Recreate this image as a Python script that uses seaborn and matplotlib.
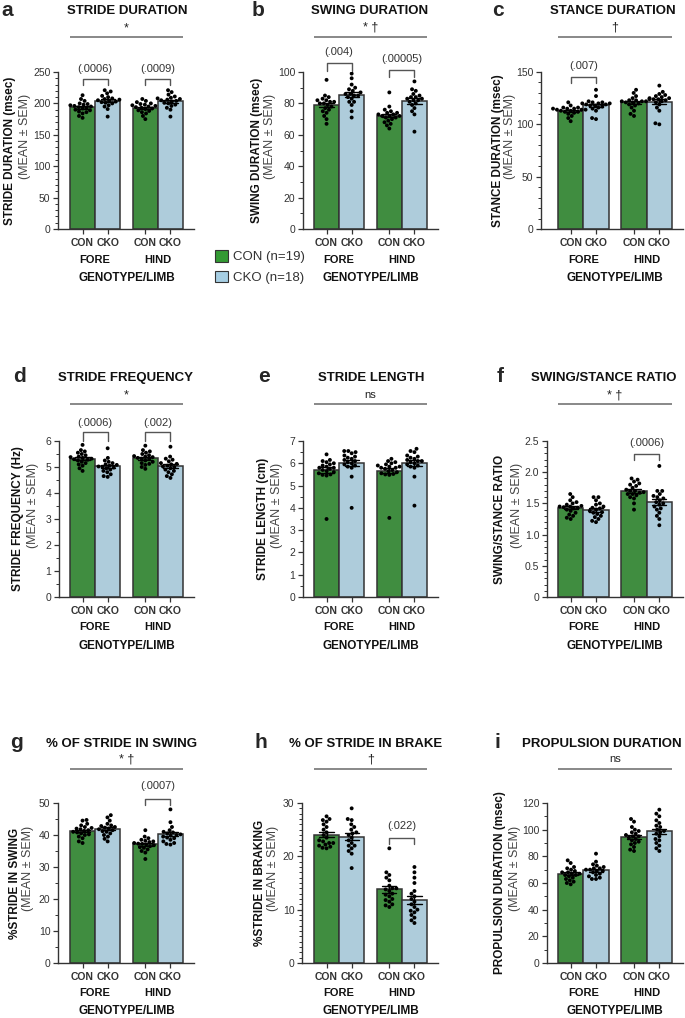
import pandas as pd
import seaborn as sns
import matplotlib.pyplot as plt
import matplotlib.transforms as mtransforms
from matplotlib.ticker import MultipleLocator, FuncFormatter
from matplotlib.patches import Patch

# ---------------- data ----------------
groups = ['CON', 'CKO']
limbs = ['FORE', 'HIND']
legend_labels = ['CON (n=19)', 'CKO (n=18)']

# a  stride duration (msec)
stride_dur_con_fore = [213, 207, 204, 200, 199, 198, 197, 196, 195, 194, 193, 192, 190, 189, 187, 186, 184, 180, 177]
stride_dur_cko_fore = [221, 219, 216, 212, 210, 208, 207, 206, 205, 204, 203, 202, 201, 200, 197, 195, 191, 179]
stride_dur_con_hind = [207, 204, 202, 200, 199, 198, 197, 196, 195, 194, 193, 192, 191, 189, 188, 186, 184, 180, 175]
stride_dur_cko_hind = [221, 218, 214, 211, 209, 208, 207, 206, 205, 204, 203, 201, 200, 198, 196, 193, 190, 179]
# b  swing duration (msec)
swing_dur_con_fore = [95, 85, 84, 83, 82, 82, 81, 81, 80, 80, 79, 78, 77, 76, 75, 74, 72, 70, 67]
swing_dur_cko_fore = [99, 96, 92, 90, 89, 88, 87, 86, 86, 85, 85, 84, 83, 81, 81, 79, 75, 71]
swing_dur_con_hind = [87, 78, 76, 75, 74, 74, 73, 73, 72, 72, 72, 71, 71, 70, 69, 68, 67, 66, 64]
swing_dur_cko_hind = [94, 89, 88, 86, 85, 84, 84, 83, 83, 82, 82, 81, 80, 79, 77, 75, 73, 62]
# c  stance duration (msec)
stance_dur_con_fore = [121, 118, 116, 116, 115, 115, 115, 114, 114, 114, 113, 113, 112, 112, 111, 110, 108, 106, 103]
stance_dur_cko_fore = [133, 127, 122, 121, 121, 120, 120, 120, 119, 119, 118, 118, 117, 116, 115, 113, 106, 105]
stance_dur_con_hind = [133, 130, 127, 125, 124, 123, 123, 122, 122, 122, 121, 121, 120, 119, 118, 116, 113, 110, 108]
stance_dur_cko_hind = [137, 131, 129, 128, 127, 126, 125, 125, 124, 124, 123, 122, 121, 119, 116, 113, 101, 100]
# d  stride frequency (Hz)
stride_freq_con_fore = [5.85, 5.65, 5.6, 5.55, 5.5, 5.45, 5.4, 5.38, 5.35, 5.32, 5.3, 5.28, 5.25, 5.2, 5.15, 5.1, 5.05, 4.95, 4.85]
stride_freq_cko_fore = [5.72, 5.35, 5.25, 5.2, 5.15, 5.1, 5.08, 5.05, 5.02, 5.0, 4.98, 4.95, 4.9, 4.85, 4.8, 4.72, 4.65, 4.62]
stride_freq_con_hind = [5.82, 5.65, 5.6, 5.55, 5.5, 5.45, 5.42, 5.4, 5.38, 5.35, 5.32, 5.3, 5.25, 5.2, 5.15, 5.12, 5.08, 5.0, 4.93]
stride_freq_cko_hind = [5.78, 5.4, 5.32, 5.28, 5.22, 5.15, 5.12, 5.1, 5.05, 5.02, 5.0, 4.95, 4.9, 4.85, 4.8, 4.72, 4.65, 4.58]
# e  stride length (cm)
stride_len_con_fore = [6.4, 6.15, 6.1, 6.05, 6.0, 5.95, 5.9, 5.85, 5.8, 5.8, 5.75, 5.7, 5.65, 5.6, 5.55, 5.5, 5.48, 5.45, 3.5]
stride_len_cko_fore = [6.55, 6.55, 6.5, 6.45, 6.35, 6.3, 6.25, 6.2, 6.15, 6.1, 6.05, 6.0, 5.95, 5.9, 5.85, 5.8, 5.4, 4.0]
stride_len_con_hind = [6.2, 6.1, 6.05, 6.0, 5.95, 5.9, 5.85, 5.85, 5.8, 5.8, 5.75, 5.7, 5.65, 5.6, 5.55, 5.52, 5.5, 5.48, 3.55]
stride_len_cko_hind = [6.65, 6.55, 6.5, 6.35, 6.3, 6.25, 6.2, 6.15, 6.1, 6.1, 6.05, 6.0, 5.95, 5.9, 5.85, 5.8, 5.4, 4.1]
# f  swing/stance ratio
ratio_con_fore = [1.65, 1.6, 1.55, 1.52, 1.5, 1.48, 1.46, 1.45, 1.45, 1.44, 1.43, 1.42, 1.4, 1.38, 1.35, 1.32, 1.3, 1.27, 1.25]
ratio_cko_fore = [1.6, 1.6, 1.55, 1.5, 1.48, 1.45, 1.43, 1.42, 1.4, 1.38, 1.36, 1.35, 1.33, 1.3, 1.28, 1.25, 1.22, 1.2]
ratio_con_hind = [1.9, 1.88, 1.85, 1.82, 1.8, 1.78, 1.75, 1.72, 1.7, 1.7, 1.68, 1.67, 1.65, 1.65, 1.63, 1.6, 1.58, 1.5, 1.4]
ratio_cko_hind = [2.1, 1.7, 1.7, 1.65, 1.62, 1.6, 1.58, 1.55, 1.52, 1.5, 1.48, 1.45, 1.42, 1.4, 1.35, 1.3, 1.25, 1.15]
# g  % stride in swing
pct_swing_con_fore = [44.7, 44.5, 43.5, 43, 42.5, 42.2, 42, 41.8, 41.5, 41.3, 41, 40.8, 40.5, 40.2, 40, 39.5, 39, 38, 37.5]
pct_swing_cko_fore = [46.2, 45.5, 44.5, 43.5, 43, 42.8, 42.5, 42.3, 42, 41.8, 41.5, 41.2, 41, 40.5, 40, 39.5, 38.8, 38]
pct_swing_con_hind = [41.5, 39.5, 39, 38.5, 38.2, 38, 37.8, 37.5, 37.3, 37.2, 37, 36.8, 36.5, 36.2, 36, 35.5, 35, 34.5, 32.5]
pct_swing_cko_hind = [48, 44, 42.5, 41.5, 41, 40.8, 40.5, 40.2, 40, 39.8, 39.5, 39.2, 39, 38.5, 38, 37.5, 37.2, 37]
# h  % stride in braking
pct_brake_con_fore = [27.5, 27, 26.8, 26.5, 26, 25.5, 25, 24.5, 24, 23.5, 23, 22.8, 22.5, 22.5, 22.2, 22, 21.8, 21.6, 21.5]
pct_brake_cko_fore = [29, 27, 26.8, 26, 25.5, 25, 24.5, 24.3, 24, 23.5, 23, 22.5, 22, 22, 21.5, 21, 20.5, 17.8]
pct_brake_con_hind = [21.5, 17, 16.5, 16, 15.5, 14.5, 14, 14, 13.8, 13.5, 13, 12.8, 12.5, 12, 11.8, 11.5, 11, 10.8, 10.5]
pct_brake_cko_hind = [18, 17, 16, 15, 13.5, 13, 12.5, 12, 11.5, 11, 10.5, 10, 9.8, 9.5, 9, 8.5, 8, 7.5]
# i  propulsion duration (msec)
prop_dur_con_fore = [77, 75, 72, 71, 70, 69, 68, 68, 67, 67, 66, 66, 65, 64, 63, 62, 61, 60, 59]
prop_dur_cko_fore = [82, 76, 74, 73, 72, 71, 71, 70, 70, 69, 69, 68, 67, 66, 65, 64, 63, 63]
prop_dur_con_hind = [108, 106, 102, 100, 99, 98, 97, 96, 95, 95, 94, 93, 92, 91, 90, 89, 87, 85, 84]
prop_dur_cko_hind = [115, 112, 110, 107, 105, 103, 102, 100, 99, 98, 97, 95, 93, 92, 90, 88, 86, 84]

panels = [
    dict(letter='a', title='STRIDE DURATION', ylabel='STRIDE DURATION (msec)', sym='*',
         vals=[stride_dur_con_fore, stride_dur_cko_fore, stride_dur_con_hind, stride_dur_cko_hind],
         ymax=250, major=50, minor=10,
         pvals=[(0, '(.0006)', 229, 239, 255), (1, '(.0009)', 229, 239, 255)]),
    dict(letter='b', title='SWING DURATION', ylabel='SWING DURATION (msec)', sym='* \u2020',
         vals=[swing_dur_con_fore, swing_dur_cko_fore, swing_dur_con_hind, swing_dur_cko_hind],
         ymax=100, major=20, minor=10,
         pvals=[(0, '(.004)', 100.6, 106, 113), (1, '(.00005)', 97, 101, 108)]),
    dict(letter='c', title='STANCE DURATION', ylabel='STANCE DURATION (msec)', sym='\u2020',
         vals=[stance_dur_con_fore, stance_dur_cko_fore, stance_dur_con_hind, stance_dur_cko_hind],
         ymax=150, major=50, minor=10,
         pvals=[(0, '(.007)', 139.5, 145, 156)]),
    dict(letter='d', title='STRIDE FREQUENCY', ylabel='STRIDE FREQUENCY (Hz)', sym='*',
         vals=[stride_freq_con_fore, stride_freq_cko_fore, stride_freq_con_hind, stride_freq_cko_hind],
         ymax=6, major=1, minor=0.5,
         pvals=[(0, '(.0006)', 6.0, 6.35, 6.69), (1, '(.002)', 6.0, 6.35, 6.69)]),
    dict(letter='e', title='STRIDE LENGTH', ylabel='STRIDE LENGTH (cm)', sym='ns',
         vals=[stride_len_con_fore, stride_len_cko_fore, stride_len_con_hind, stride_len_cko_hind],
         ymax=7, major=1, minor=0.5, pvals=[]),
    dict(letter='f', title='SWING/STANCE RATIO', ylabel='SWING/STANCE RATIO', sym='* \u2020',
         vals=[ratio_con_fore, ratio_cko_fore, ratio_con_hind, ratio_cko_hind],
         ymax=2.5, major=0.5, minor=0.1,
         pvals=[(1, '(.0006)', 2.2, 2.29, 2.46)]),
    dict(letter='g', title='% OF STRIDE IN SWING', ylabel='%STRIDE IN SWING', sym='* \u2020',
         vals=[pct_swing_con_fore, pct_swing_cko_fore, pct_swing_con_hind, pct_swing_cko_hind],
         ymax=50, major=10, minor=5,
         pvals=[(1, '(.0007)', 49.5, 51.2, 55.2)]),
    dict(letter='h', title='% OF STRIDE IN BRAKE', ylabel='%STRIDE IN BRAKING', sym='\u2020',
         vals=[pct_brake_con_fore, pct_brake_cko_fore, pct_brake_con_hind, pct_brake_cko_hind],
         ymax=30, major=10, minor=1,
         pvals=[(1, '(.022)', 22.4, 23.5, 25.6)]),
    dict(letter='i', title='PROPULSION DURATION', ylabel='PROPULSION DURATION (msec)', sym='ns',
         vals=[prop_dur_con_fore, prop_dur_cko_fore, prop_dur_con_hind, prop_dur_cko_hind],
         ymax=120, major=20, minor=10, pvals=[]),
]

# ---------------- layout (pixels) ----------------
W, H = 685, 1018
palette = {'CON': '#339a33', 'CKO': '#a6cee3'}
dark = '#333333'

col_left = [[58, 303, 541], [59, 303, 547], [58, 302, 547]]
bar_lo = [70, 314, 558]
bar_hi = [183, 427, 672]
ax_right = [194, 438, 683]
row_top = [72, 441, 803]
row_bot = [229, 597, 963]
row_title = [11, 378, 744]
row_sym = [28, 395, 759]
row_line = [37, 404, 769]
row_limb = [260, 627, 993]
row_geno = [278, 646, 1011]
title_x = [127, 370, 613, 126, 371, 604, 122, 366, 602]
letter_x = [1, 252, 492, 13, 258, 497, 10, 254, 494]
ylab_off = [(-48, -33), (-46, -33), (-43, -31), (-41, -26), (-40, -26),
            (-47, -30), (-43, -30), (-42, -29), (-47, -32)]

sns.set_style('ticks')
plt.rcParams['font.family'] = ['Liberation Sans', 'DejaVu Sans']
narrow = ['Liberation Sans Narrow', 'Liberation Sans', 'DejaVu Sans']


def fx(x):
    return x / W


def fy(y):
    return 1 - y / H


fig = plt.figure(figsize=(W / 100, H / 100), dpi=100)

for k, p in enumerate(panels):
    r, c = divmod(k, 3)
    left, right = col_left[r][c], ax_right[c]
    top, bot = row_top[r], row_bot[r]
    ax = fig.add_axes([fx(left), fy(bot), (right - left) / W, (bot - top) / H])

    rows = []
    for i, vals in enumerate(p['vals']):
        for v in vals:
            rows.append({'limb': limbs[i // 2], 'geno': groups[i % 2], 'val': v})
    df = pd.DataFrame(rows)

    sns.barplot(data=df, x='limb', y='val', hue='geno', order=limbs, hue_order=groups,
                palette=palette, errorbar='se', capsize=0.45, edgecolor=dark, linewidth=1.1,
                err_kws={'color': 'k', 'linewidth': 1}, ax=ax, legend=False)
    sns.swarmplot(data=df, x='limb', y='val', hue='geno', order=limbs, hue_order=groups,
                  dodge=True, palette={'CON': 'k', 'CKO': 'k'}, size=2.8, ax=ax,
                  legend=False, warn_thresh=1)

    ppu = (bar_hi[c] - bar_lo[c]) / 1.8
    ax.set_xlim(-0.4 - (bar_lo[c] - left) / ppu, 1.4 + (right - bar_hi[c]) / ppu)
    ax.set_ylim(0, p['ymax'])
    ax.yaxis.set_major_locator(MultipleLocator(p['major']))
    ax.yaxis.set_minor_locator(MultipleLocator(p['minor']))
    if p['major'] < 1:
        ax.yaxis.set_major_formatter(FuncFormatter(lambda v, _: '0' if v == 0 else f'{v:.1f}'))
    else:
        ax.yaxis.set_major_formatter(FuncFormatter(lambda v, _: f'{v:g}'))
    ax.set_xticks([-0.2, 0.2, 0.8, 1.2])
    ax.set_xticklabels(['CON', 'CKO', 'CON', 'CKO'], fontweight='bold', family=narrow, fontsize=8)
    ax.set_xlabel('')
    ax.set_ylabel('')
    for s in ['top', 'right']:
        ax.spines[s].set_visible(False)
    for s in ['left', 'bottom']:
        ax.spines[s].set_color(dark)
        ax.spines[s].set_linewidth(1)
    ax.tick_params(axis='both', which='major', length=3.5, width=0.9, color=dark,
                   labelcolor=dark, labelsize=7.5, pad=2)
    ax.tick_params(axis='y', which='minor', length=2, width=0.7, color=dark)
    ax.tick_params(axis='x', pad=3)

    tr = mtransforms.blended_transform_factory(ax.transData, fig.transFigure)
    fig.text(fx(title_x[k]), fy(row_title[r]), p['title'], ha='center', va='center',
             fontsize=9.5, fontweight='bold', color='#111111')
    ax.text(0.5, fy(row_sym[r]), p['sym'], transform=tr, ha='center', va='center',
            fontsize=9 if p['sym'] != 'ns' else 8, color='#222222')
    ax.plot([-0.4, 1.4], [fy(row_line[r])] * 2, transform=tr, color='#888888', lw=1.4,
            clip_on=False, solid_capstyle='butt')
    for j, lb in enumerate(limbs):
        ax.text(j, fy(row_limb[r]), lb, transform=tr, ha='center', va='center',
                fontsize=8, fontweight='bold', family=narrow, color='#111111')
    ax.text(0.5, fy(row_geno[r]), 'GENOTYPE/LIMB', transform=tr, ha='center', va='center',
            fontsize=8.5, fontweight='bold', family=narrow, color='#111111')

    # comparison brackets
    for g, txt, y0, y1, yt in p['pvals']:
        x1, x2 = g - 0.2, g + 0.2
        ax.plot([x1, x1, x2, x2], [y0, y1, y1, y0], color='#555555', lw=1, clip_on=False)
        ax.text(g, yt, txt, ha='center', va='center', fontsize=8, color='#333333', clip_on=False)

    # panel letter and y labels
    fig.text(fx(letter_x[k]), fy(row_title[r] - 1), p['letter'], fontsize=15,
             fontweight='bold', ha='left', va='center')
    ymid = (top + bot) / 2
    fig.text(fx(left + ylab_off[k][0]), fy(ymid), p['ylabel'], rotation=90, ha='center',
             va='center', fontsize=8.5, fontweight='bold', color='#111111')
    fig.text(fx(left + ylab_off[k][1]), fy(ymid - 0.09 * (bot - top)), '(MEAN \u00b1 SEM)',
             rotation=90, ha='center', va='center', fontsize=9, color='#444444')

handles = [Patch(facecolor=palette[g], edgecolor=dark, linewidth=0.8) for g in groups]
fig.legend(handles, legend_labels, loc='upper left', bbox_to_anchor=(fx(215), fy(250)),
           frameon=False, fontsize=9.5, handlelength=1.0, handleheight=1.0,
           handletextpad=0.4, labelspacing=0.55, borderaxespad=0, borderpad=0,
           labelcolor='#333333')

fig.savefig('out.png', dpi=100)
